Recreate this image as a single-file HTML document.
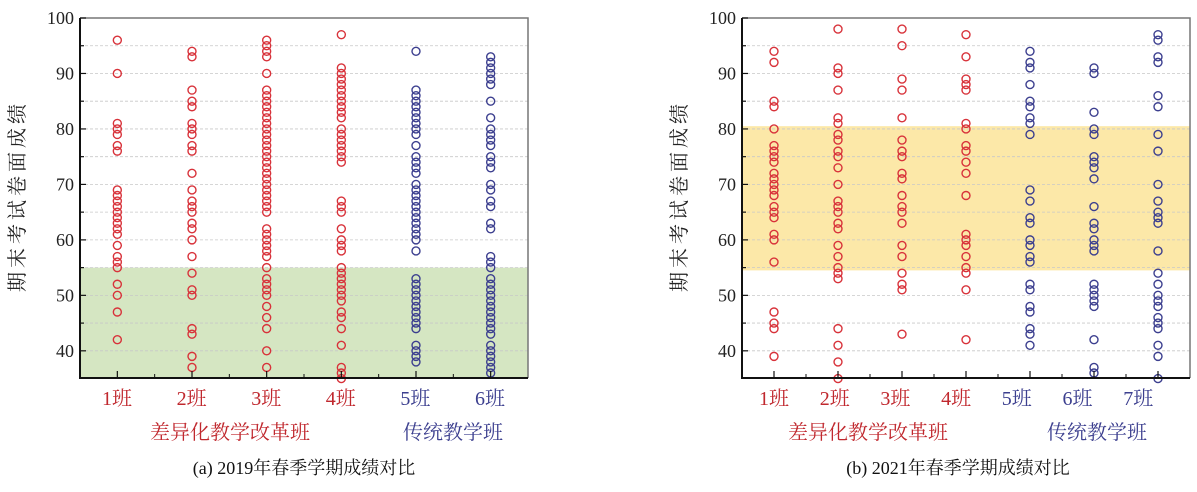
<!DOCTYPE html>
<html><head><meta charset="utf-8">
<style>
html,body{margin:0;padding:0;background:#fff;}
svg{display:block;font-family:"Liberation Serif","Noto Serif CJK SC",serif;}
</style></head>
<body>
<svg id="root" width="1197" height="492" viewBox="0 0 1197 492"></svg>
<script>
const catsA = ["1班","2班","3班","4班","5班","6班"];
const catsB = ["1班","2班","3班","4班","5班","6班","7班"];
const yTicks = [40,50,60,70,80,90,100];
const a1 = [96,90,81,80,79,77,76,69,68,67,66,65,64,63,62,61,59,57,56,55,52,50,47,42];
const a2 = [94,93,87,85,84,81,80,79,77,76,72,69,67,66,65,63,62,60,57,54,51,50,44,43,39,37];
const a3 = [96,95,94,93,90,87,86,85,84,83,82,81,80,79,78,77,76,75,74,73,72,71,70,69,68,67,66,65,62,61,60,59,58,57,55,53,52,51,50,48,46,44,40,37];
const a4 = [97,91,90,89,88,87,86,85,84,83,82,80,79,78,77,76,75,74,67,66,65,62,60,59,58,55,54,53,52,51,50,49,47,46,44,41,37,36,35];
const a5 = [94,87,86,85,84,83,82,81,80,79,77,75,74,73,72,70,69,68,67,66,65,64,63,62,61,60,58,53,52,51,50,49,48,47,46,45,44,41,40,39,38];
const a6 = [93,92,91,90,89,88,85,82,80,79,78,77,75,74,73,70,69,67,66,63,62,57,56,55,53,52,51,50,49,48,47,46,45,44,43,41,40,39,38,37,36];
const b1 = [94,92,85,84,80,77,76,75,74,72,71,70,69,68,66,65,64,61,60,56,47,45,44,39];
const b2 = [98,91,90,87,82,81,79,78,76,75,73,70,67,66,65,63,62,59,57,55,54,53,44,41,38,35];
const b3 = [98,95,89,87,82,78,76,75,72,71,68,66,65,63,59,57,54,52,51,43];
const b4 = [97,93,89,88,87,81,80,77,76,74,72,68,61,60,59,57,55,54,51,42];
const b5 = [94,92,91,88,85,84,82,81,79,69,67,64,63,60,59,57,56,52,51,48,47,44,43,41];
const b6 = [91,90,83,80,79,75,74,73,71,66,63,62,60,59,58,52,51,50,49,48,42,37,36];
const b7 = [97,96,93,92,86,84,79,76,70,67,65,64,63,58,54,52,50,49,48,46,45,44,41,39,35];
const seriesA = [a1,a2,a3,a4,a5,a6];
const seriesB = [b1,b2,b3,b4,b5,b6,b7];
const bandA = [35,55];
const bandB = [54.5,80.5];

const NS="http://www.w3.org/2000/svg";
const root=document.getElementById('root');
function mk(tag,attrs,parent){const e=document.createElementNS(NS,tag);for(const k in attrs)e.setAttribute(k,attrs[k]);(parent||root).appendChild(e);return e;}
const RED="#d8323a", BLUE="#3c3f8f";

function chart(opt){
  const g=mk('g',{});
  
  
  const L=opt.x0,R=opt.x1,T=18,B=378,vmin=35.1,vmax=100;
  const y=v=>T+(vmax-v)/(vmax-vmin)*(B-T);
  const n=opt.cats.length, step=(R-L)/n;
  const x=i=>L+step*(i+0.5);
  const band=mk('rect',{x:L,y:y(opt.band[1]),width:R-L,height:y(opt.band[0])-y(opt.band[1]),fill:opt.bandColor},g);
  
  
  for(let v=40;v<100;v+=5){
    const l=mk('line',{x1:L,x2:R,y1:y(v),y2:y(v),stroke:'#c8c8c8','stroke-width':0.8,'stroke-dasharray':'3,2'},g);
    
    
  }
  const fr=mk('path',{d:`M${L} ${T}H${R}V${B}`,fill:'none',stroke:'#777','stroke-width':1.5},g);
  
  
  opt.series.forEach((arr,i)=>{
    const col=i<4?RED:BLUE;
    arr.forEach(v=>{
      const c=mk('circle',{cx:x(i),cy:y(v),r:4,fill:'none',stroke:col,'stroke-width':1.4},g);
      
      
    });
  });
  const ax=mk('path',{d:`M${L} ${T}V${B}H${R}`,fill:'none',stroke:'#111','stroke-width':2},g);
  
  
  for(let v=40;v<=100;v+=5){
    const t=mk('line',{x1:L,x2:L+(v%10==0?6:4),y1:y(v),y2:y(v),stroke:'#111','stroke-width':1.2},g);
    
    
  }
  yTicks.forEach(v=>{
    const t=mk('text',{x:L-6,y:y(v)+6,'text-anchor':'end','font-size':18,fill:'#222'},g);
    t.textContent=v;
    
    
  });
  for(let i=0;i<n;i++){
    const t=mk('line',{x1:x(i),x2:x(i),y1:B,y2:B-7,stroke:'#111','stroke-width':1.2},g);
    
    
    if(i<n-1){
      const m=mk('line',{x1:L+step*(i+1),x2:L+step*(i+1),y1:B,y2:B-4,stroke:'#111','stroke-width':1},g);
      
      
    }
    const lb=mk('text',{x:opt.labX0+opt.labStep*i,y:405,'text-anchor':'middle','font-size':20,fill:i<4?'#c0282e':'#3c3f8f'},g);
    lb.textContent=opt.cats[i];
    
    
  }
  const yt=mk('text',{x:0,y:0,'text-anchor':'middle','font-size':20,fill:'#222',transform:`translate(${opt.titleX},196) rotate(-90)`,'letter-spacing':'4'},g);
  yt.textContent='期末考试卷面成绩';
  
  
  const g1=mk('text',{x:opt.g1X,y:439,'text-anchor':'middle','font-size':20,fill:'#c0282e'},g);
  g1.textContent='差异化教学改革班';
  
  
  const g2=mk('text',{x:opt.g2X,y:439,'text-anchor':'middle','font-size':20,fill:'#3c3f8f'},g);
  g2.textContent='传统教学班';
  
  
  const cap=mk('text',{x:opt.capX,y:474,'text-anchor':'middle','font-size':18,fill:'#111'},g);
  cap.textContent=opt.caption;
  
  
}
chart({name:'chart-2019',x0:80,x1:528,cats:catsA,series:seriesA,band:bandA,bandColor:'#d5e6c2',titleX:24,capX:304,labX0:117,labStep:74.6,g1X:230,g2X:453,caption:'(a) 2019年春季学期成绩对比'});
chart({name:'chart-2021',x0:742,x1:1190,cats:catsB,series:seriesB,band:bandB,bandColor:'#fce8a8',titleX:686,capX:958,labX0:774,labStep:60.7,g1X:868,g2X:1097,caption:'(b) 2021年春季学期成绩对比'});
</script>
</body></html>
